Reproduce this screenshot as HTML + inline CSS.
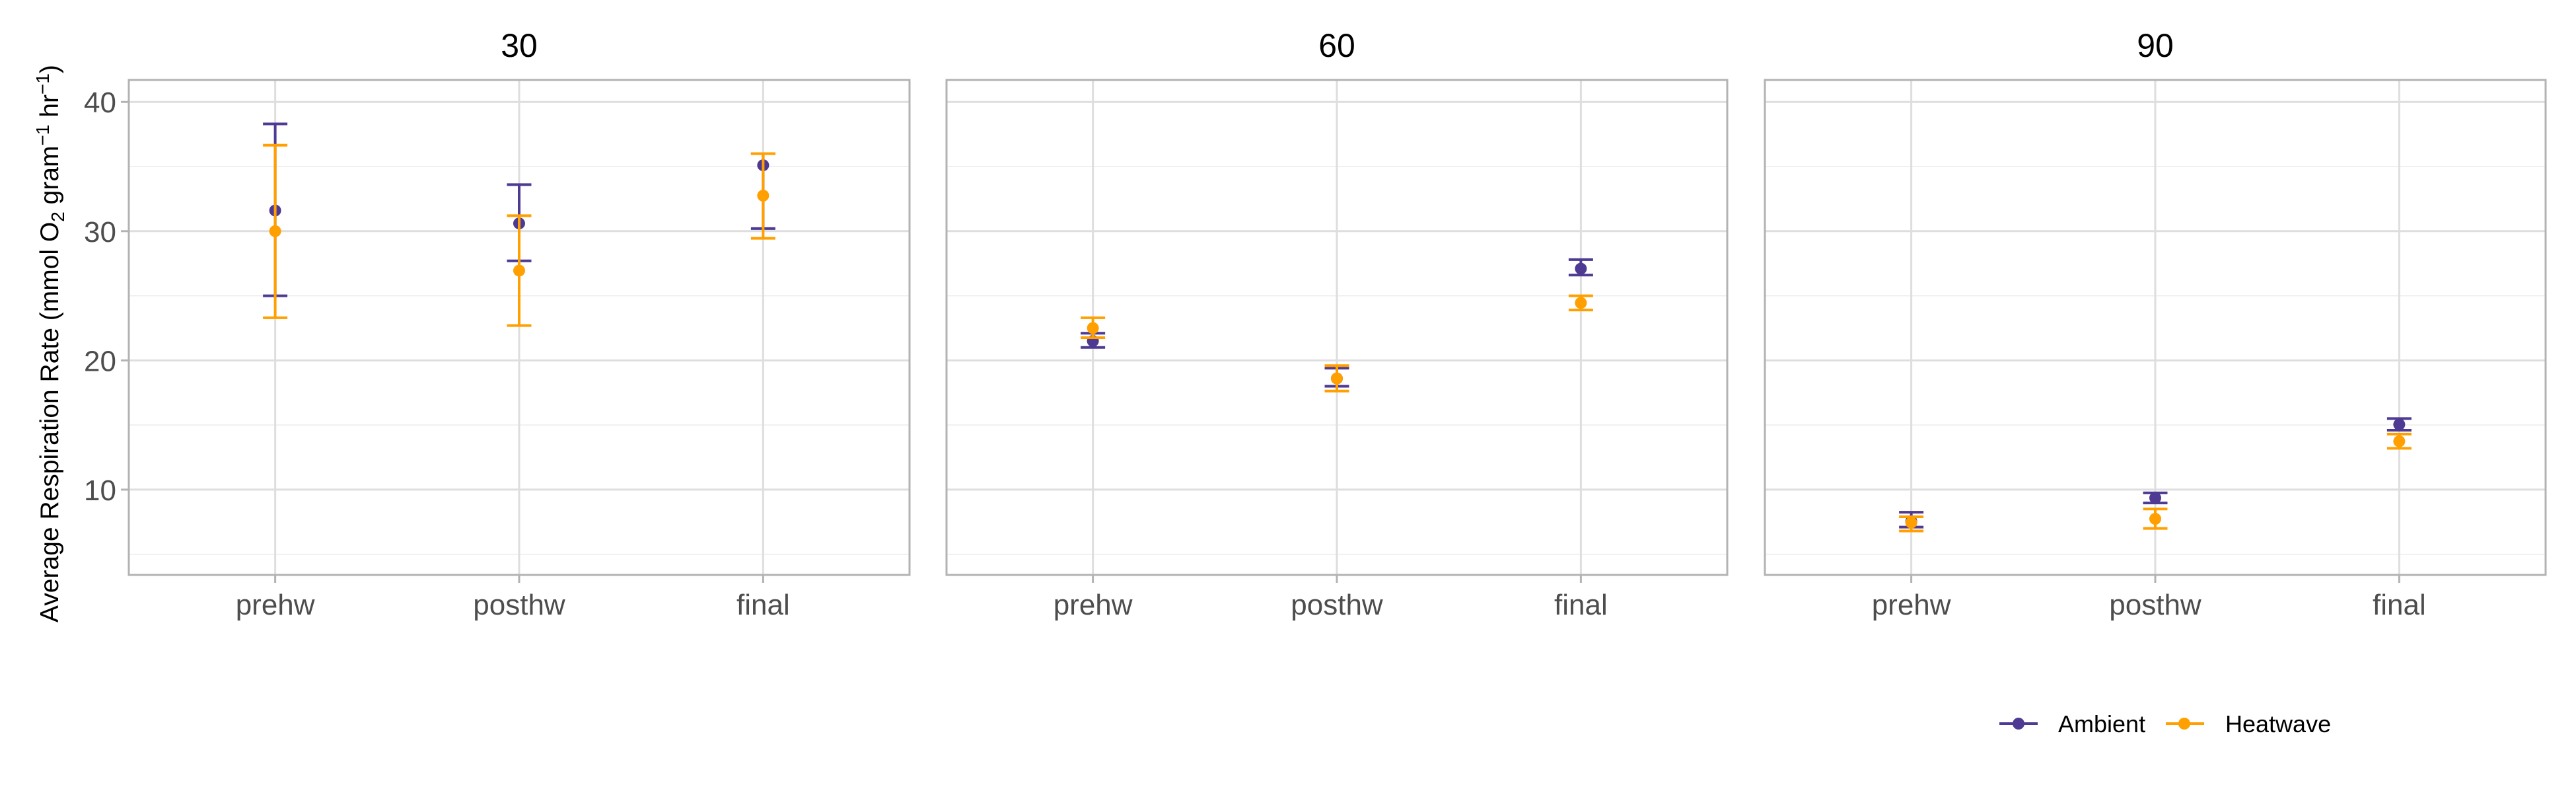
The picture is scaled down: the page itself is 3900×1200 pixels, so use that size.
<!DOCTYPE html>
<html><head><meta charset="utf-8"><style>
html,body{margin:0;padding:0;background:#fff;}
svg{display:block;font-family:"Liberation Sans",sans-serif;}
</style></head><body>
<svg id="chart" width="3900" height="1200" viewBox="0 0 3900 1200" xmlns="http://www.w3.org/2000/svg">
<rect width="3900" height="1200" fill="#fff"/>
<text transform="translate(88,520) rotate(-90)" text-anchor="middle" font-size="39" fill="#000">Average Respiration Rate (mmol O<tspan font-size="28" dy="9">2</tspan><tspan dy="-9"> gram</tspan><tspan font-size="28" dy="-14">−1</tspan><tspan dy="14"> hr</tspan><tspan font-size="28" dy="-14">−1</tspan><tspan dy="14">)</tspan></text>
<g id="legend">
  <g>
    <line x1="3027" y1="1095" x2="3085" y2="1095" stroke="#4E3A92" stroke-width="4"/>
    <circle cx="3056" cy="1095" r="9" fill="#4E3A92"/>
    <text x="3116" y="1108" font-size="36" fill="#000">Ambient</text>
  </g>
  <g>
    <line x1="3279" y1="1095" x2="3337" y2="1095" stroke="#FFA000" stroke-width="4"/>
    <circle cx="3307" cy="1095" r="9" fill="#FFA000"/>
    <text x="3369" y="1108" font-size="36" fill="#000">Heatwave</text>
  </g>
</g>
</svg>
<script>
const panels = ["30","60","90"];
const categories = ["prehw","posthw","final"];
const yTicks = [10,20,30,40];
const yMinorTicks = [5,15,25,35];
// per panel, per category
const ambientMean  = [[31.6,30.6,35.1],[21.5,18.6,27.1],[7.55,9.36,15.04]];
const ambientLow   = [[25.0,27.7,30.2],[21.0,18.0,26.6],[7.1,8.97,14.6]];
const ambientHigh  = [[38.3,33.6,36.0],[22.1,19.4,27.8],[8.25,9.75,15.5]];
const heatMean     = [[30.0,26.95,32.75],[22.5,18.6,24.45],[7.45,7.74,13.74]];
const heatLow      = [[23.3,22.7,29.45],[21.76,17.63,23.9],[6.8,7.0,13.2]];
const heatHigh     = [[36.65,31.2,36.0],[23.3,19.6,25.0],[7.9,8.5,14.3]];

const NS="http://www.w3.org/2000/svg";
const svg=document.getElementById('chart');
const legend=document.getElementById('legend');
const panelLeft=[195,1433,2672], panelW=1182, panelTop=121, panelBot=870;
const yMin=3.4, yMax=41.7;
function yScale(v){return panelBot-(v-yMin)/(yMax-yMin)*(panelBot-panelTop);}
function xScale(p,i){return panelLeft[p]+(i+0.6)/3.2*panelW;}
function mk(tag,attrs,parent){
  const e=document.createElementNS(NS,tag);
  for(const k in attrs)e.setAttribute(k,attrs[k]);
  if(parent)parent.appendChild(e);else svg.insertBefore(e,legend);
  return e;
}
const series=[
 {name:"ambient",color:"#4E3A92",m:ambientMean,lo:ambientLow,hi:ambientHigh},
 {name:"heatwave",color:"#FFA000",m:heatMean,lo:heatLow,hi:heatHigh}
];
panels.forEach((pn,p)=>{
  const L=panelLeft[p];
  const g=mk('g',{});
  
  
  yMinorTicks.forEach(v=>{const l=mk('line',{x1:L,x2:L+panelW,y1:yScale(v),y2:yScale(v),stroke:'#ebebeb','stroke-width':1.5},g);
    
    });
  yTicks.forEach(v=>{const l=mk('line',{x1:L,x2:L+panelW,y1:yScale(v),y2:yScale(v),stroke:'#dedede','stroke-width':3},g);
    
    });
  categories.forEach((c,i)=>{const l=mk('line',{x1:xScale(p,i),x2:xScale(p,i),y1:panelTop,y2:panelBot,stroke:'#dedede','stroke-width':3},g);
    
    
    const tk=mk('line',{x1:xScale(p,i),x2:xScale(p,i),y1:panelBot,y2:panelBot+12,stroke:'#b3b3b3','stroke-width':3},g);
    
    
    const t=mk('text',{x:xScale(p,i),y:930,'text-anchor':'middle','font-size':44,fill:'#4d4d4d'},g);
    t.textContent=c;
    
    
  });
  const st=mk('text',{x:L+panelW/2,y:86,'text-anchor':'middle','font-size':50,fill:'#000'},g);
  st.textContent=pn;
  
  
  series.forEach(s=>{
    categories.forEach((c,i)=>{
      const x=xScale(p,i);
      const eg=mk('g',{stroke:s.color,'stroke-width':4},g);
      
      
      mk('line',{x1:x,x2:x,y1:yScale(s.lo[p][i]),y2:yScale(s.hi[p][i])},eg);
      mk('line',{x1:x-18.5,x2:x+18.5,y1:yScale(s.lo[p][i]),y2:yScale(s.lo[p][i])},eg);
      mk('line',{x1:x-18.5,x2:x+18.5,y1:yScale(s.hi[p][i]),y2:yScale(s.hi[p][i])},eg);
      const pt=mk('circle',{cx:x,cy:yScale(s.m[p][i]),r:9,fill:s.color},g);
      
      
    });
  });
  const b=mk('rect',{x:L,y:panelTop,width:panelW,height:panelBot-panelTop,fill:'none',stroke:'#b3b3b3','stroke-width':3},g);
  
  
});
yTicks.forEach(v=>{
  const t=mk('text',{x:176,y:yScale(v)+16,'text-anchor':'end','font-size':44,fill:'#4d4d4d'});
  t.textContent=v;
  
  
  const tk=mk('line',{x1:183,x2:195,y1:yScale(v),y2:yScale(v),stroke:'#b3b3b3','stroke-width':3});
  
  
});
</script>
</body></html>
